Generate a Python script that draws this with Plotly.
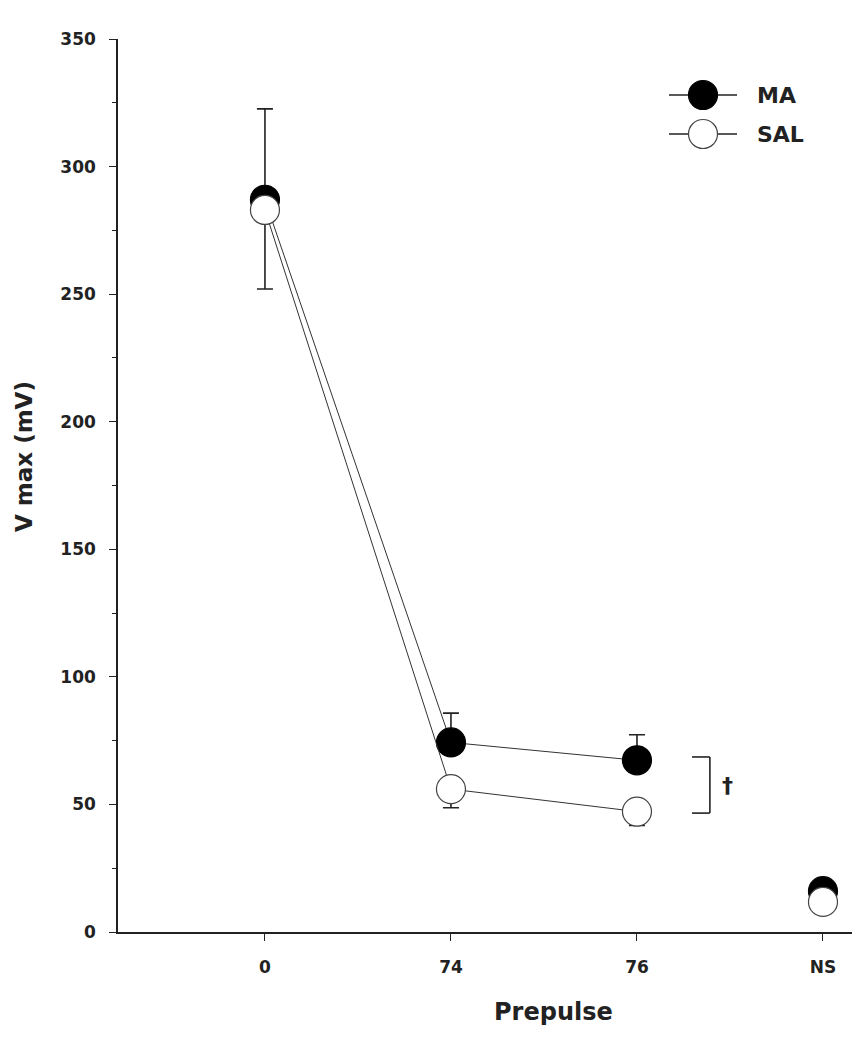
import plotly.graph_objects as go

# ---- data ----
categories = ["0", "74", "76", "NS"]
ma_mean = [287, 74.3, 67.3, 16]
ma_err_up = [35.6, 11.5, 10.0, 0]
sal_mean = [283, 56.0, 47.2, 11.8]
sal_err_down = [31.0, 7.3, 5.4, 0]

FONT = "DejaVu Sans"
x_idx = list(range(len(categories)))

# plot-area geometry (pixels) for decorations
L, R, T, B = 118, 852, 39, 932
W, H = R - L, B - T


def px(x):
    return (x - L) / W


def py(y):
    return 1 - (y - T) / H


fig = go.Figure()

for name, mean, fill, line_col, err_plus, err_minus in [
    ("MA", ma_mean, "black", "black", ma_err_up, [0] * 4),
    ("SAL", sal_mean, "white", "#444444", [0] * 4, sal_err_down),
]:
    fig.add_trace(go.Scatter(
        x=x_idx[:3], y=mean[:3], mode="lines+markers", name=name,
        line=dict(color="#333333", width=1),
        marker=dict(size=29, color=fill, line=dict(color=line_col, width=1.2)),
        error_y=dict(type="data", symmetric=False, array=err_plus[:3],
                     arrayminus=err_minus[:3], color="#222222",
                     thickness=1.6, width=8),
        showlegend=False,
    ))
    fig.add_trace(go.Scatter(
        x=x_idx[3:], y=mean[3:], mode="markers", name=name,
        marker=dict(size=29, color=fill, line=dict(color=line_col, width=1.2)),
        showlegend=False,
    ))

# significance bracket between 74/76 series
br_x, br_arm, br_y0, br_y1 = 2.392, 2.296, 46.6, 68.6
line_style = dict(color="#222222", width=1.6)
fig.add_shape(type="line", x0=br_x, x1=br_x, y0=br_y0, y1=br_y1, line=line_style)
fig.add_shape(type="line", x0=br_arm, x1=br_x, y0=br_y0, y1=br_y0, line=line_style)
fig.add_shape(type="line", x0=br_arm, x1=br_x, y0=br_y1, y1=br_y1, line=line_style)
fig.add_annotation(x=2.484, y=57.5, text="<b>†</b>", showarrow=False,
                   xanchor="center", yanchor="middle",
                   font=dict(family=FONT, size=22, color="#222222"))

# manual legend
for label, ypx, fill, edge in [("MA", 95, "black", "black"), ("SAL", 134, "white", "#444444")]:
    fig.add_shape(type="line", xref="paper", yref="paper",
                  x0=px(669), x1=px(737), y0=py(ypx), y1=py(ypx),
                  line=dict(color="#222222", width=1.4))
    fig.add_shape(type="circle", xref="paper", yref="paper",
                  xsizemode="pixel", ysizemode="pixel",
                  xanchor=px(703), yanchor=py(ypx),
                  x0=-14.5, x1=14.5, y0=-14.5, y1=14.5,
                  fillcolor=fill, line=dict(color=edge, width=1.2))
    fig.add_annotation(xref="paper", yref="paper", x=px(755), y=py(ypx),
                       xanchor="left", yanchor="middle", text=f"<b>{label}</b>",
                       showarrow=False, font=dict(family=FONT, size=22, color="#222222"))

# axis titles
fig.add_annotation(xref="paper", yref="paper", x=px(24), y=py(457),
                   xanchor="center", yanchor="middle",
                   text="<b>V max (mV)</b>", textangle=-90, showarrow=False,
                   font=dict(family=FONT, size=23, color="#222222"))
fig.add_annotation(xref="paper", yref="paper", x=px(553), y=py(1012),
                   xanchor="center", yanchor="middle",
                   text="<b>Prepulse</b>", showarrow=False,
                   font=dict(family=FONT, size=24, color="#222222"))

fig.update_layout(
    width=854, height=1050,
    margin=dict(l=L, r=854 - R, t=T, b=1050 - B),
    paper_bgcolor="white", plot_bgcolor="white",
    showlegend=False,
    xaxis=dict(
        range=[-0.79, 3.156], tickvals=x_idx, ticktext=[f"<b>{c}</b>" for c in categories],
        showgrid=False, zeroline=False, showline=True, linecolor="#222222", linewidth=1.6,
        ticks="outside", ticklen=7, tickwidth=1.4, tickcolor="#222222",
        ticklabelstandoff=12,
        tickfont=dict(family=FONT, size=17, color="#222222"),
    ),
    yaxis=dict(
        range=[0, 350], tickvals=[0, 50, 100, 150, 200, 250, 300, 350],
        ticktext=["<b>%d</b>" % v for v in [0, 50, 100, 150, 200, 250, 300, 350]],
        showgrid=False, zeroline=False, showline=True, linecolor="#222222", linewidth=1.6,
        ticks="outside", ticklen=7, tickwidth=1.4, tickcolor="#222222",
        ticklabelstandoff=10,
        minor=dict(dtick=25, ticks="outside", ticklen=4, tickwidth=1.4, tickcolor="#222222"),
        tickfont=dict(family=FONT, size=17, color="#222222"),
    ),
)

fig.write_html("out.html", config={"displayModeBar": False},
               post_script="document.body.style.margin='0';document.body.style.overflow='hidden';")
